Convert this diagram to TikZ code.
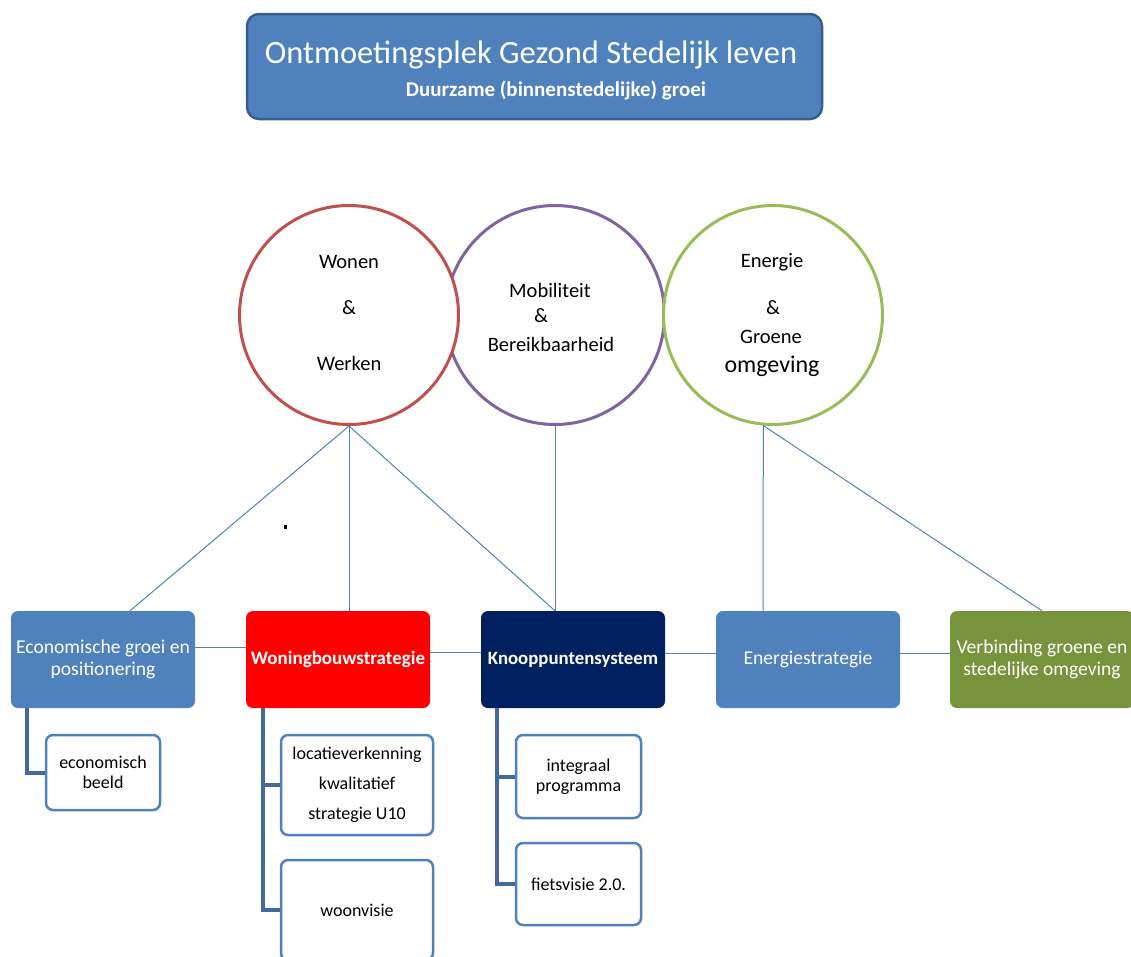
\documentclass[tikz,border=0pt]{standalone}
\usepackage{fontspec}
\setmainfont{Carlito}
\usetikzlibrary{positioning}
\definecolor{boxblue}{HTML}{4F81BD}
\definecolor{titleedge}{HTML}{385D8A}
\definecolor{boxnavy}{HTML}{002060}
\definecolor{boxgreen}{HTML}{77933C}
\definecolor{ringred}{HTML}{C0504D}
\definecolor{ringpurple}{HTML}{8064A2}
\definecolor{ringgreen}{HTML}{9BBB59}
\definecolor{barblue}{HTML}{41689F}
\begin{document}
\begin{tikzpicture}[x=1pt,y=-1pt,
  ring/.style={draw=#1,line width=3pt,fill=white,circle,minimum size=219pt,inner sep=0pt},
  ringtext/.style={font=\fontsize{20.5}{24}\selectfont,inner sep=0pt},
  mainbox/.style={rounded corners=7pt,fill=#1,text=white,minimum width=184pt,minimum height=97pt,align=center,font=\fontsize{19.6}{22}\selectfont,inner sep=0pt},
  subbox/.style={draw=boxblue,line width=2.5pt,fill=white,rounded corners=7pt,align=center,font=\fontsize{18}{20}\selectfont,inner sep=0pt},
  link/.style={draw=boxblue,line width=1pt},
  bar/.style={draw=barblue,line width=4pt}]
\useasboundingbox (0,0) rectangle (1131,956);
% title
\node[draw=titleedge,line width=2.5pt,fill=boxblue,rounded corners=12pt,minimum width=575pt,minimum height=105pt] (T) at (534.5,66.5) {};
\node[text=white,font=\fontsize{32.5}{38}\selectfont,inner sep=0pt] (Tmain) at (531,55) {Ontmoetingsplek Gezond Stedelijk leven};
\node[text=white,font=\bfseries\fontsize{21}{24}\selectfont,inner sep=0pt] (Tsub) at (556,90) {Duurzame (binnenstedelijke) groei};
% themes
\node[ring=ringpurple] (M) at (555,315) {};
\node[ring=ringred] (W) at (349,315) {};
\node[ring=ringgreen] (G) at (773,315) {};
\node[ringtext] (w1) at (349,262) {Wonen};
\node[ringtext] (w2) at (349,308) {\&};
\node[ringtext] (w3) at (349,363) {Werken};
\node[ringtext] (m1) at (550,290) {Mobiliteit};
\node[ringtext] (m2) at (541,316) {\&};
\node[ringtext] (m3) at (551,344) {Bereikbaarheid};
\node[ringtext] (g1) at (772,262) {Energie};
\node[ringtext] (g2) at (773,308) {\&};
\node[ringtext] (g3) at (771,337) {Groene};
\node[ringtext,font=\fontsize{24}{28}\selectfont] (g4) at (772,366) {omgeving};
% strategies
\node[mainbox=boxblue] (E) at (103,659.5) {Economische groei en\\positionering};
\node[mainbox=red,font=\bfseries\fontsize{19}{22}\selectfont] (H) at (338,659.5) {Woningbouwstrategie};
\node[mainbox=boxnavy,font=\bfseries\fontsize{18.8}{22}\selectfont] (K) at (573,659.5) {Knooppuntensysteem};
\node[mainbox=boxblue] (N) at (808,659.5) {Energiestrategie};
\node[mainbox=boxgreen] (V) at (1042,659.5) {Verbinding groene en\\stedelijke omgeving};
% sub items
\node[subbox,minimum width=114pt,minimum height=75pt] (eb) at (103,772.5) {economisch\\beeld};
\node[subbox,minimum width=152pt,minimum height=100pt,font=\fontsize{18}{30}\selectfont] (lk) at (357,785) {locatieverkenning\\kwalitatief\\strategie U10};
\node[subbox,minimum width=152pt,minimum height=100pt] (wv) at (357,910) {woonvisie};
\node[subbox,minimum width=125pt,minimum height=83pt] (ip) at (578.5,776.5) {integraal\\programma};
\node[subbox,minimum width=125pt,minimum height=82pt] (fv) at (578.5,884) {fietsvisie 2.0.};
% connectors
\draw[link] (W.south) -- ([xshift=27pt]E.north);
\draw[link] (W.south) -- ([xshift=11pt]H.north);
\draw[link] (W.south) -- ([xshift=-18pt]K.north);
\draw[link] (M.south) -- ([xshift=-18pt]K.north);
\draw[link] (G.265) -- ([xshift=-45pt]N.north);
\draw[link] (G.265) -- (V.north);
\draw[link] ([yshift=12pt]E.east) -- ([yshift=12pt]H.west);
\draw[link] ([yshift=7pt]H.east) -- ([yshift=7pt]K.west);
\draw[link] ([yshift=6pt]K.east) -- ([yshift=6pt]N.west);
\draw[link] ([yshift=6pt]N.east) -- ([yshift=6pt]V.west);
\draw[bar] ([xshift=16pt]E.south west) |- (eb.west);
\draw[bar] ([xshift=17pt]H.south west) |- (lk.west);
\draw[bar] ([xshift=17pt]H.south west) |- (wv.west);
\draw[bar] ([xshift=16pt]K.south west) |- (ip.west);
\draw[bar] ([xshift=16pt]K.south west) |- (fv.west);
\fill (284,525) rectangle (287,529);
\end{tikzpicture}
\end{document}
